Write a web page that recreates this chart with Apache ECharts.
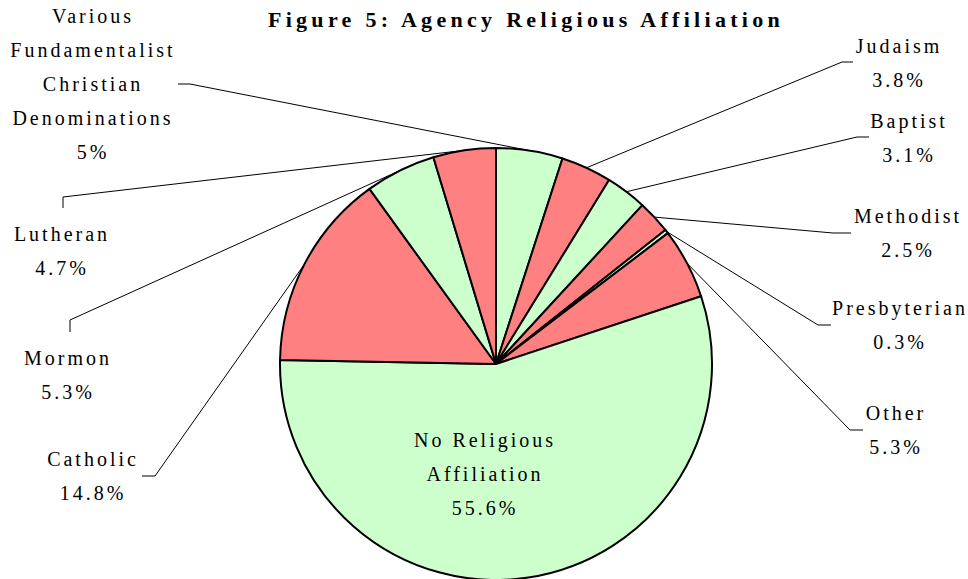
<!DOCTYPE html>
<html>
<head>
<meta charset="utf-8">
<script src="https://cdn.jsdelivr.net/npm/echarts@6/dist/echarts.min.js"></script>
<style>
  html, body { margin: 0; padding: 0; background: #fff; }
  #chart { width: 968px; height: 579px; }
  #chart text { font-family: 'Liberation Serif', serif !important; letter-spacing: 3px; }
  #chart text[style*="bold"] { letter-spacing: 4.3px; }
</style>
</head>
<body>
<div id="chart"></div>
<script>
// ---- data ----
const titleText = 'Figure 5: Agency Religious Affiliation';
const categories = [
  'Various\nFundamentalist\nChristian\nDenominations',
  'Judaism',
  'Baptist',
  'Methodist',
  'Presbyterian',
  'Other',
  'No Religious\nAffiliation',
  'Catholic',
  'Mormon',
  'Lutheran'
];
const values = [5, 3.8, 3.1, 2.5, 0.3, 5.3, 55.6, 14.8, 5.3, 4.7];

// ---- styling / layout (not data) ----
const RED = '#FF8080', GREEN = '#CCFFCC';
const sliceColors = [GREEN, RED, GREEN, RED, GREEN, RED, GREEN, RED, GREEN, RED];
// label block centre and leader-line elbow (two points near the label)
const labelLayoutCfg = [
  { x: 93,  y: 84,  elbow: [[190, 84], [178, 84]] },
  { x: 899, y: 63,  elbow: [[842, 62], [853, 62]] },
  { x: 909, y: 138, elbow: [[857, 137], [869, 137]] },
  { x: 908, y: 233, elbow: [[833, 233], [851, 233]] },
  { x: 900, y: 325, elbow: [[818, 325], [831, 325]] },
  { x: 896, y: 430, elbow: [[850, 430], [863, 430]] },
  { x: 485, y: 474, elbow: null },
  { x: 93,  y: 476, elbow: [[155, 476], [142, 476]] },
  { x: 68,  y: 375, elbow: [[70, 320], [70, 332]] },
  { x: 62,  y: 251, elbow: [[63, 197], [63, 208]] }
];
const FONT = 'Liberation Serif';

const seriesData = categories.map((name, i) => {
  const item = { name: name, value: values[i], itemStyle: { color: sliceColors[i] } };
  if (!labelLayoutCfg[i].elbow) {
    item.label = { position: 'inside' };
    item.labelLine = { show: false };
  }
  return item;
});

const chart = echarts.init(document.getElementById('chart'), null, { renderer: 'svg' });
chart.setOption({
  backgroundColor: '#ffffff',
  animation: false,
  title: {
    text: titleText,
    left: 521,
    top: 3,
    textAlign: 'center',
    textStyle: { fontFamily: FONT, fontWeight: 'bold', fontSize: 22, color: '#000' }
  },
  series: [{
    type: 'pie',
    center: [496, 364],
    radius: 216,
    startAngle: 90,
    clockwise: true,
    avoidLabelOverlap: false,
    data: seriesData,
    itemStyle: { borderColor: '#000', borderWidth: 2 },
    emphasis: { disabled: true },
    label: {
      show: true,
      position: 'outside',
      formatter: '{b}\n{c}%',
      fontFamily: FONT,
      fontSize: 20,
      lineHeight: 34,
      color: '#000',
      align: 'center'
    },
    labelLine: {
      show: true,
      showAbove: false,
      length: 20,
      length2: 10,
      lineStyle: { color: '#000', width: 1 }
    },
    labelLayout: function (params) {
      const cfg = labelLayoutCfg[params.dataIndex];
      const out = { x: cfg.x, y: cfg.y, align: 'center', verticalAlign: 'middle' };
      if (cfg.elbow && params.labelLinePoints && params.labelLinePoints.length) {
        const start = params.labelLinePoints[0];
        out.labelLinePoints = [[start[0], start[1]], cfg.elbow[0], cfg.elbow[1]];
      }
      return out;
    }
  }]
});
</script>
</body>
</html>
